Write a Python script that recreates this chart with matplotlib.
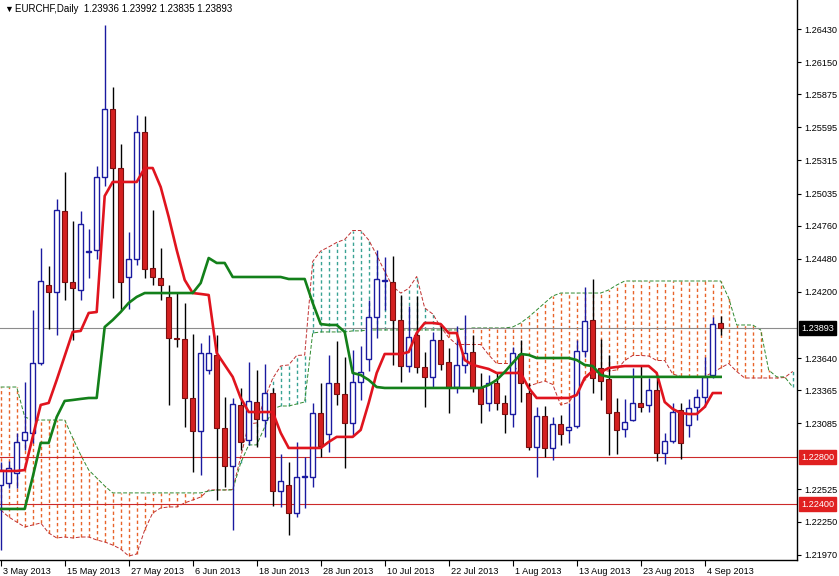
import matplotlib
matplotlib.use("Agg")
import matplotlib.pyplot as plt
import matplotlib.transforms as mtransforms
import numpy as np

# EURCHF daily bars, 3 May 2013 (index 0) .. 6 Sep 2013 (index 90)
opens = [1.22564, 1.22581, 1.22665, 1.22945, 1.23005, 1.23598, 1.24259, 1.24200, 1.24887, 1.24285,
         1.24217, 1.24539, 1.24556, 1.25175, 1.25752, 1.25251, 1.24327, 1.24480, 1.25557, 1.24403,
         1.24319, 1.24158, 1.23810, 1.23801, 1.23301, 1.23021, 1.23538, 1.23666, 1.23047, 1.22724,
         1.23242, 1.22945, 1.23267, 1.23114, 1.23343, 1.22512, 1.22563, 1.22326, 1.22631, 1.22631,
         1.23174, 1.22996, 1.23428, 1.23335, 1.23089, 1.23437, 1.23632, 1.23988, 1.24293, 1.24285,
         1.23962, 1.23572, 1.23835, 1.23564, 1.23479, 1.23793, 1.23606, 1.23394, 1.23581, 1.23691,
         1.23386, 1.23259, 1.23428, 1.23259, 1.23165, 1.23674, 1.23343, 1.22886, 1.23148, 1.22877,
         1.23081, 1.23030, 1.23064, 1.23699, 1.23962, 1.23555, 1.23462, 1.23182, 1.23038, 1.23114,
         1.23259, 1.23242, 1.23369, 1.22835, 1.22937, 1.23199, 1.23072, 1.23225, 1.23309, 1.23496,
         1.23936]
highs = [1.22758, 1.22767, 1.23005, 1.23437, 1.24047, 1.24573, 1.24420, 1.24989, 1.25217, 1.24802,
         1.24887, 1.24734, 1.25268, 1.26460, 1.25938, 1.25455, 1.24709, 1.25700, 1.25692, 1.24895,
         1.24573, 1.24259, 1.24200, 1.24107, 1.23844, 1.23767, 1.23835, 1.23835, 1.23309, 1.23301,
         1.23386, 1.23606, 1.23538, 1.23589, 1.23386, 1.22826, 1.22758, 1.22928, 1.22800, 1.23259,
         1.23428, 1.23666, 1.23784, 1.23649, 1.23708, 1.23742, 1.24132, 1.24556, 1.24497, 1.24505,
         1.24174, 1.24081, 1.24166, 1.23691, 1.23861, 1.23928, 1.23725, 1.23912, 1.24005, 1.23835,
         1.23513, 1.23496, 1.23513, 1.23326, 1.23734, 1.23793, 1.23428, 1.23225, 1.23233, 1.23140,
         1.23157, 1.23259, 1.23793, 1.24242, 1.24310, 1.23801, 1.23666, 1.23301, 1.23292, 1.23555,
         1.23572, 1.23471, 1.23479, 1.23005, 1.23259, 1.23259, 1.23292, 1.23377, 1.23649, 1.23988,
         1.23992]
lows = [1.22012, 1.22538, 1.22538, 1.22860, 1.22920, 1.23581, 1.23886, 1.23835, 1.24132, 1.23793,
        1.24132, 1.24319, 1.24480, 1.25099, 1.24149, 1.24047, 1.24056, 1.24429, 1.24319, 1.24259,
        1.24132, 1.23242, 1.23734, 1.23055, 1.22674, 1.22648, 1.23505, 1.22436, 1.22546, 1.22182,
        1.22860, 1.22903, 1.22886, 1.22971, 1.22385, 1.22377, 1.22139, 1.22292, 1.22368, 1.22546,
        1.22800, 1.22843, 1.23242, 1.22707, 1.22988, 1.23284, 1.23530, 1.23810, 1.24047, 1.23581,
        1.23437, 1.23521, 1.23513, 1.23225, 1.23394, 1.23538, 1.23174, 1.23343, 1.23513, 1.23352,
        1.23089, 1.23191, 1.23199, 1.23005, 1.23055, 1.23267, 1.22860, 1.22631, 1.22800, 1.22775,
        1.22903, 1.22920, 1.23047, 1.23649, 1.23343, 1.23284, 1.22818, 1.22826, 1.22971, 1.23106,
        1.23182, 1.23182, 1.22767, 1.22741, 1.22920, 1.22784, 1.22971, 1.23114, 1.23225, 1.23471,
        1.23835]
closes = [1.22690, 1.22707, 1.22928, 1.23013, 1.23598, 1.24293, 1.24200, 1.24895, 1.24285, 1.24234,
          1.24776, 1.24547, 1.25175, 1.25752, 1.25251, 1.24285, 1.24480, 1.25557, 1.24395, 1.24327,
          1.24259, 1.23810, 1.23801, 1.23301, 1.23021, 1.23682, 1.23682, 1.23047, 1.22724, 1.23250,
          1.22928, 1.23276, 1.23123, 1.23343, 1.22512, 1.22597, 1.22326, 1.22631, 1.22640, 1.23174,
          1.22894, 1.23428, 1.23335, 1.23089, 1.23437, 1.23521, 1.23988, 1.24310, 1.24302, 1.23962,
          1.23572, 1.23818, 1.23564, 1.23479, 1.23793, 1.23589, 1.23394, 1.23581, 1.23682, 1.23394,
          1.23250, 1.23428, 1.23259, 1.23165, 1.23682, 1.23428, 1.22886, 1.23148, 1.22877, 1.23081,
          1.22996, 1.23055, 1.23699, 1.23954, 1.23471, 1.23445, 1.23174, 1.23030, 1.23098, 1.23259,
          1.23225, 1.23369, 1.22835, 1.22937, 1.23182, 1.22920, 1.23216, 1.23309, 1.23479, 1.23928,
          1.23893]

# Ichimoku lines
tenkan = [1.22682, 1.22682, 1.22682, 1.22690, 1.22971, 1.23242, 1.23259, 1.23454, 1.23657, 1.23861,
          1.23870, 1.24022, 1.24030, 1.25014, 1.25133, 1.25133, 1.25133, 1.25133, 1.25251, 1.25251,
          1.25090, 1.24836, 1.24556, 1.24302, 1.24191, 1.24183, 1.24174, 1.23683, 1.23581, 1.23480,
          1.23301, 1.23182, 1.23182, 1.23182, 1.23182, 1.23005, 1.22877, 1.22877, 1.22877, 1.22877,
          1.22877, 1.22928, 1.22971, 1.22971, 1.22971, 1.23030, 1.23259, 1.23513, 1.23674, 1.23674,
          1.23674, 1.23691, 1.23852, 1.23937, 1.23937, 1.23928, 1.23852, 1.23852, 1.23623, 1.23581,
          1.23564, 1.23547, 1.23513, 1.23513, 1.23513, 1.23513, 1.23386, 1.23301, 1.23301, 1.23301,
          1.23301, 1.23301, 1.23326, 1.23471, 1.23530, 1.23521, 1.23555, 1.23564, 1.23572, 1.23572,
          1.23572, 1.23572, 1.23513, 1.23267, 1.23208, 1.23174, 1.23165, 1.23165, 1.23225, 1.23343,
          1.23343]
kijun = [1.22360, 1.22360, 1.22360, 1.22360, 1.22631, 1.22920, 1.22920, 1.23140, 1.23276, 1.23284,
         1.23293, 1.23301, 1.23301, 1.23903, 1.23962, 1.24030, 1.24107, 1.24158, 1.24191, 1.24191,
         1.24191, 1.24191, 1.24191, 1.24191, 1.24191, 1.24276, 1.24488, 1.24446, 1.24446, 1.24327,
         1.24327, 1.24327, 1.24327, 1.24327, 1.24327, 1.24327, 1.24310, 1.24310, 1.24310, 1.24107,
         1.23928, 1.23920, 1.23920, 1.23861, 1.23513, 1.23496, 1.23454, 1.23394, 1.23386, 1.23386,
         1.23386, 1.23386, 1.23386, 1.23386, 1.23386, 1.23386, 1.23386, 1.23386, 1.23386, 1.23386,
         1.23386, 1.23411, 1.23454, 1.23521, 1.23598, 1.23674, 1.23666, 1.23640, 1.23640, 1.23640,
         1.23640, 1.23640, 1.23623, 1.23581, 1.23572, 1.23496, 1.23480, 1.23480, 1.23480, 1.23480,
         1.23480, 1.23480, 1.23480, 1.23480, 1.23480, 1.23480, 1.23480, 1.23480, 1.23480, 1.23480,
         1.23480]
# senkou span A for the first 26 bars (comes from bars before the window)
span_a_early = [1.22351, 1.22292, 1.22249, 1.22207, 1.22224, 1.22241, 1.22156, 1.22114, 1.22122, 1.22114,
                1.22122, 1.22122, 1.22097, 1.22080, 1.22054, 1.22020, 1.21961, 1.21978, 1.22182, 1.22326,
                1.22368, 1.22377, 1.22377, 1.22411, 1.22436, 1.22461]
span_b = [1.23394, 1.23394, 1.23394, 1.23140, 1.23114, 1.23114, 1.23114, 1.23114, 1.23114, 1.22962,
          1.22818, 1.22690, 1.22623, 1.22555, 1.22496, 1.22496, 1.22496, 1.22496, 1.22496, 1.22496,
          1.22496, 1.22496, 1.22496, 1.22496, 1.22496, 1.22496, 1.22512, 1.22521, 1.22521, 1.22521,
          1.22750, 1.22903, 1.22903, 1.23055, 1.23208, 1.23233, 1.23233, 1.23250, 1.23267, 1.23852,
          1.23861, 1.23861, 1.23861, 1.23861, 1.23870, 1.23870, 1.23878, 1.23878, 1.23878, 1.23878,
          1.23878, 1.23878, 1.23878, 1.23878, 1.23878, 1.23878, 1.23878, 1.23878, 1.23886, 1.23895,
          1.23895, 1.23895, 1.23895, 1.23895, 1.23903, 1.23937, 1.23988, 1.24047, 1.24107, 1.24166,
          1.24191, 1.24191, 1.24191, 1.24191, 1.24191, 1.24191, 1.24217, 1.24259, 1.24293, 1.24293,
          1.24293, 1.24293, 1.24293, 1.24293, 1.24293, 1.24293, 1.24293, 1.24293, 1.24293, 1.24293,
          1.24293, 1.24149, 1.23920, 1.23920, 1.23920, 1.23878, 1.23538, 1.23480, 1.23480, 1.23394]

date_pos = [0, 8, 16, 24, 32, 40, 48, 56, 64, 72, 80, 88]
date_labels = ["3 May 2013", "15 May 2013", "27 May 2013", "6 Jun 2013", "18 Jun 2013",
               "28 Jun 2013", "10 Jul 2013", "22 Jul 2013", "1 Aug 2013", "13 Aug 2013",
               "23 Aug 2013", "4 Sep 2013"]
price_ticks = [1.26430, 1.26150, 1.25875, 1.25595, 1.25315, 1.25035, 1.24760, 1.24480, 1.24200,
               1.23640, 1.23365, 1.23085, 1.22525, 1.22250, 1.21970]
last_price = 1.23893
levels = [1.22800, 1.22400]
title = "EURCHF,Daily  1.23936 1.23992 1.23835 1.23893"

FONT = ["Liberation Sans", "DejaVu Sans"]
BULL = "#1a1aa0"
BEAR = "#d42020"

n = len(closes)
x = np.arange(n)
o = np.array(opens); c = np.array(closes)
h = np.array(highs); l = np.array(lows)
span_a = np.array(span_a_early + [(t + k) / 2 for t, k in zip(tenkan, kijun)])
sb = np.array(span_b)
nc = len(sb)
sa = span_a[:nc]
xc = np.arange(nc)

fig = plt.figure(figsize=(8.39, 5.76), dpi=100)
ax = fig.add_axes([0.0, 16 / 576, 797 / 839, 560 / 576])
ax.set_xlim(-0.0875, 99.54)
ax.set_ylim(1.21927, 1.26676)

# cloud: dotted vertical hatches between the two spans
up = sb >= sa
ax.vlines(xc[up], sa[up], sb[up], colors="#e8642a", linewidth=1.0,
          linestyles=(0, (2.4, 2.0)), zorder=1)
ax.vlines(xc[~up], sb[~up], sa[~up], colors="#3aa394", linewidth=1.0,
          linestyles=(0, (2.4, 2.0)), zorder=1)
ax.plot(xc, sa, color="#c03030", linewidth=0.7, linestyle=(0, (4, 2)), zorder=2)
ax.plot(xc, sb, color="#2f8a2f", linewidth=0.7, linestyle=(0, (4, 2)), zorder=2)

# horizontal levels
ax.axhline(last_price, color="#8c8c8c", linewidth=0.8, zorder=2)
for lv in levels:
    ax.axhline(lv, color="#cc2a2a", linewidth=0.8, zorder=2)

# candles
bull = c >= o
wick_col = np.where(bull, BULL, "black")
ax.vlines(x, l, h, colors=wick_col, linewidth=1.0, zorder=3)
bottoms = np.minimum(o, c)
heights = np.abs(c - o)
ax.bar(x[bull], heights[bull], bottom=bottoms[bull], width=0.62, color="white",
       edgecolor=BULL, linewidth=1.0, zorder=4)
ax.bar(x[~bull], heights[~bull], bottom=bottoms[~bull], width=0.62, color=BEAR,
       edgecolor="#7a1010", linewidth=0.8, zorder=4)

# tenkan / kijun
ax.plot(x, tenkan, color="#e0141e", linewidth=1.9, zorder=5)
ax.plot(x, kijun, color="#13801a", linewidth=1.9, zorder=5)

# axes styling
for s in ax.spines.values():
    s.set_color("black")
    s.set_linewidth(1.0)
ax.spines["top"].set_visible(False)
ax.spines["left"].set_visible(False)

ax.yaxis.tick_right()
ax.set_yticks(price_ticks)
ax.set_yticklabels(["%.5f" % p for p in price_ticks], fontsize=6.6, family=FONT)
ax.tick_params(axis="y", direction="out", length=3, width=0.8, pad=2, colors="black")

ax.set_xticks(date_pos)
ax.set_xticklabels(date_labels, fontsize=6.6, family=FONT, ha="left")
ax.tick_params(axis="x", direction="out", length=4, width=0.8, pad=1)
offset = mtransforms.ScaledTranslation(2 / 100, 0, fig.dpi_scale_trans)
for lab in ax.get_xticklabels():
    lab.set_transform(lab.get_transform() + offset)

# highlighted price labels on the scale
trans = mtransforms.blended_transform_factory(ax.transAxes, ax.transData)
ax.text(1.0 + 4 / 797, last_price, "%.5f" % last_price, transform=trans, fontsize=6.6,
        family=FONT, color="white", va="center", ha="left", zorder=10,
        bbox=dict(boxstyle="square,pad=0.25", fc="black", ec="black"))
for lv in levels:
    ax.text(1.0 + 4 / 797, lv, "%.5f" % lv, transform=trans, fontsize=6.6, family=FONT,
            color="white", va="center", ha="left", zorder=10,
            bbox=dict(boxstyle="square,pad=0.25", fc="#e02020", ec="#e02020"))

# title
fig.text(4 / 839, 1 - 9 / 576, "\u25bc", fontsize=6.5, family=FONT, va="center", ha="left")
fig.text(15 / 839, 1 - 9 / 576, title, fontsize=7.0, family=FONT, va="center", ha="left")

fig.savefig("out.png", dpi=100)
